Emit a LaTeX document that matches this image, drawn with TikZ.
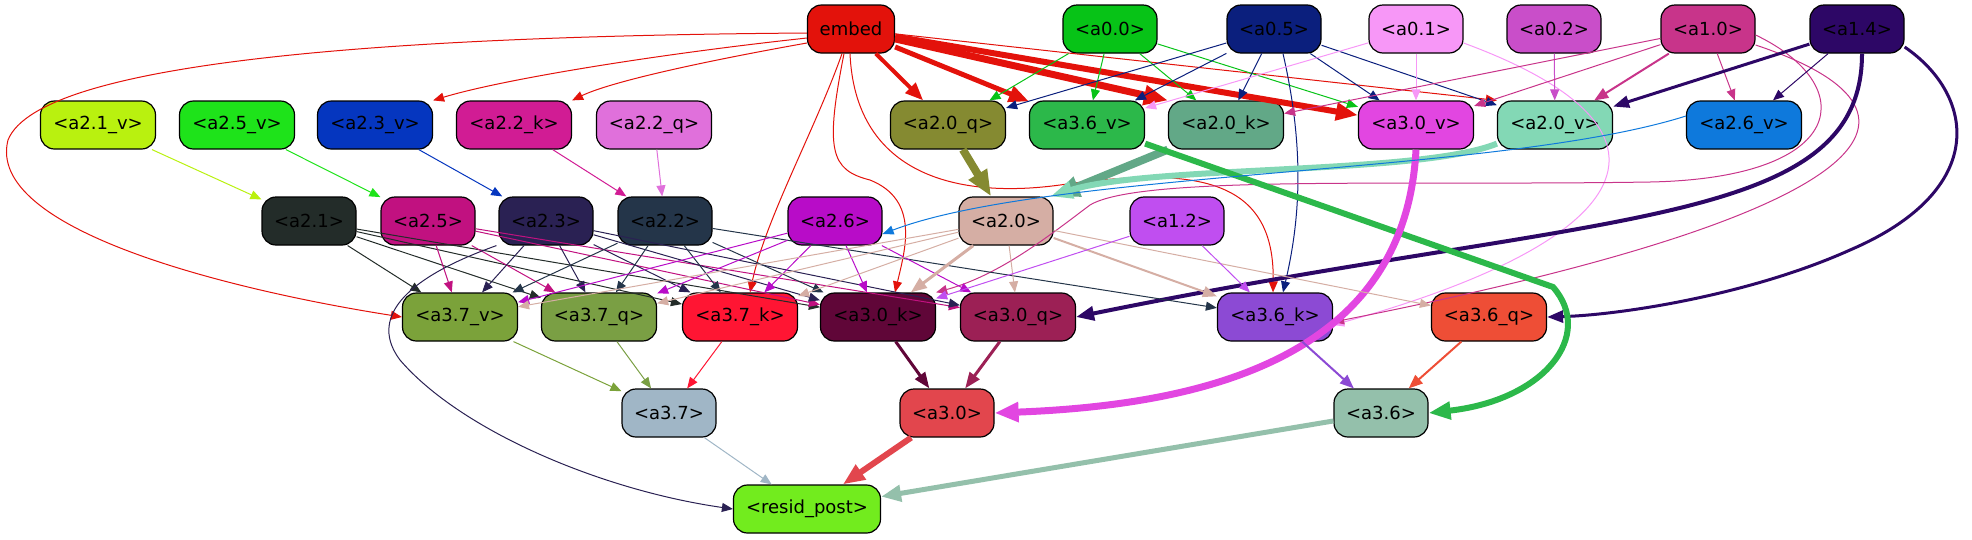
\documentclass[tikz,border=0pt]{standalone}
\usepackage{fontspec}
\setmainfont{DejaVu Sans}
\usetikzlibrary{arrows.meta}
\definecolor{cemb}{HTML}{E3120B}
\definecolor{ca00}{HTML}{07C317}
\definecolor{ca05}{HTML}{0B1F7D}
\definecolor{ca01}{HTML}{F797F7}
\definecolor{ca02}{HTML}{C94EC9}
\definecolor{ca10}{HTML}{C8348A}
\definecolor{ca14}{HTML}{2D0766}
\definecolor{ca21v}{HTML}{B9F10F}
\definecolor{ca25v}{HTML}{1EE31A}
\definecolor{ca23v}{HTML}{0536BF}
\definecolor{ca22k}{HTML}{D11C94}
\definecolor{ca22q}{HTML}{E070DB}
\definecolor{ca20q}{HTML}{858A31}
\definecolor{ca36v}{HTML}{2CB84A}
\definecolor{ca20k}{HTML}{62A887}
\definecolor{ca30v}{HTML}{E246E1}
\definecolor{ca20v}{HTML}{83D8B5}
\definecolor{ca26v}{HTML}{0E79DC}
\definecolor{ca21}{HTML}{232C29}
\definecolor{ca25}{HTML}{C11180}
\definecolor{ca23}{HTML}{2A2153}
\definecolor{ca22}{HTML}{243549}
\definecolor{ca26}{HTML}{B80CC8}
\definecolor{ca20}{HTML}{D5AEA4}
\definecolor{ca12}{HTML}{C04EF0}
\definecolor{ca37v}{HTML}{7BA23A}
\definecolor{ca37q}{HTML}{7A9F44}
\definecolor{ca37k}{HTML}{FF1533}
\definecolor{ca30k}{HTML}{600638}
\definecolor{ca30q}{HTML}{9C2055}
\definecolor{ca36k}{HTML}{8C4AD4}
\definecolor{ca36q}{HTML}{EE4E36}
\definecolor{ca37}{HTML}{A0B6C6}
\definecolor{ca30}{HTML}{E2464D}
\definecolor{ca36}{HTML}{94C0AB}
\definecolor{cres}{HTML}{72EC1E}
\begin{document}
\begin{tikzpicture}[x=1pt,y=-1pt,
  nd/.style={draw=black, line width=1.2pt, rounded corners=14pt, minimum height=48pt, inner sep=0pt, font=\fontsize{18}{20}\selectfont, text=black},
  sn/.style={nd, minimum width=94pt},
  ln/.style={nd, minimum width=115pt},
  e1/.style={line width=1pt, -{Triangle[length=11pt,width=9pt]}},
  e2/.style={line width=2pt, -{Triangle[length=14pt,width=11pt]}},
  e3/.style={line width=3pt, -{Triangle[length=16pt,width=12pt]}},
  e4/.style={line width=4pt, -{Triangle[length=18pt,width=14pt]}},
  e5/.style={line width=5pt, -{Triangle[length=20pt,width=16pt]}},
  e6/.style={line width=6pt, -{Triangle[length=22pt,width=17pt]}},
  e7/.style={line width=7pt, -{Triangle[length=24pt,width=19pt]}},
  e8/.style={line width=8pt, -{Triangle[length=26pt,width=20pt]}},
]
\useasboundingbox (0,0) rectangle (1972,539);
% row 1
\node[nd, minimum width=87pt, fill=cemb] (emb) at (851,29) {embed};
\node[sn, fill=ca00] (a00) at (1110,29) {<a0.0>};
\node[sn, fill=ca05] (a05) at (1274,29) {<a0.5>};
\node[sn, fill=ca01] (a01) at (1416,29) {<a0.1>};
\node[sn, fill=ca02] (a02) at (1554,29) {<a0.2>};
\node[sn, fill=ca10] (a10) at (1708,29) {<a1.0>};
\node[sn, fill=ca14] (a14) at (1857,29) {<a1.4>};
% row 2
\node[ln, fill=ca21v] (a21v) at (98,125) {<a2.1\_v>};
\node[ln, fill=ca25v] (a25v) at (237,125) {<a2.5\_v>};
\node[ln, fill=ca23v] (a23v) at (375,125) {<a2.3\_v>};
\node[ln, fill=ca22k] (a22k) at (514,125) {<a2.2\_k>};
\node[ln, fill=ca22q] (a22q) at (654,125) {<a2.2\_q>};
\node[ln, fill=ca20q] (a20q) at (948,125) {<a2.0\_q>};
\node[ln, fill=ca36v] (a36v) at (1087,125) {<a3.6\_v>};
\node[ln, fill=ca20k] (a20k) at (1226,125) {<a2.0\_k>};
\node[ln, fill=ca30v] (a30v) at (1416,125) {<a3.0\_v>};
\node[ln, fill=ca20v] (a20v) at (1555,125) {<a2.0\_v>};
\node[ln, fill=ca26v] (a26v) at (1744,125) {<a2.6\_v>};
% row 3
\node[sn, fill=ca21] (a21) at (309,221) {<a2.1>};
\node[sn, fill=ca25] (a25) at (428,221) {<a2.5>};
\node[sn, fill=ca23] (a23) at (546,221) {<a2.3>};
\node[sn, fill=ca22] (a22) at (665,221) {<a2.2>};
\node[sn, fill=ca26] (a26) at (835,221) {<a2.6>};
\node[sn, fill=ca20] (a20) at (1006,221) {<a2.0>};
\node[sn, fill=ca12] (a12) at (1177,221) {<a1.2>};
% row 4
\node[ln, fill=ca37v] (a37v) at (460,317) {<a3.7\_v>};
\node[ln, fill=ca37q] (a37q) at (599,317) {<a3.7\_q>};
\node[ln, fill=ca37k] (a37k) at (740,317) {<a3.7\_k>};
\node[ln, fill=ca30k] (a30k) at (878,317) {<a3.0\_k>};
\node[ln, fill=ca30q] (a30q) at (1018,317) {<a3.0\_q>};
\node[ln, fill=ca36k] (a36k) at (1275,317) {<a3.6\_k>};
\node[ln, fill=ca36q] (a36q) at (1489,317) {<a3.6\_q>};
% row 5
\node[sn, fill=ca37] (a37) at (669,413) {<a3.7>};
\node[sn, fill=ca30] (a30) at (947,413) {<a3.0>};
\node[sn, fill=ca36] (a36) at (1381,413) {<a3.6>};
% row 6
\node[nd, minimum width=147pt, fill=cres] (res) at (807,509) {<resid\_post>};

% ---- embed
\draw[e1,cemb] ([yshift=-4pt]emb.west) .. controls (400,36) and (40,60) .. (8,140) .. controls (-15,230) and (230,290) .. (a37v.west);
\draw[e1,cemb] ([yshift=-9pt]emb.west) .. controls (650,55) and (500,80) .. (a23v.north east);
\draw[e1,cemb] ([yshift=-14pt]emb.west) .. controls (700,62) and (610,82) .. (a22k.north east);
\draw[e1,cemb] ([xshift=-9pt]emb.south) .. controls (815,130) and (765,220) .. ([xshift=10pt]a37k.north);
\draw[e1,cemb] ([xshift=-7pt]emb.south) .. controls (825,150) and (830,170) .. (870,180) .. controls (920,200) and (905,250) .. ([xshift=17pt]a30k.north);
\draw[e1,cemb] ([xshift=-1pt]emb.south) .. controls (855,170) and (950,200) .. (1060,185) .. controls (1200,165) and (1275,180) .. ([xshift=-2pt]a36k.north);
\draw[e4,cemb] (emb) -- (a20q);
\draw[e5,cemb] (emb) -- (a36v);
\draw[e7,cemb] (emb) -- (a20k.north west);
\draw[e6,cemb] (emb) -- (a30v);
\draw[e1,cemb] (emb) -- (a20v.north west);
% ---- a0.0
\draw[e1,ca00] (a00) -- (a20q);
\draw[e1,ca00] (a00) -- (a36v);
\draw[e1,ca00] (a00) -- (a20k);
\draw[e1,ca00] (a00) -- (a30v);
% ---- a0.5
\draw[e1,ca05] (a05) -- (a20q);
\draw[e1,ca05] (a05) -- (a36v);
\draw[e1,ca05] (a05) -- (a20k);
\draw[e1,ca05] (a05) -- (a30v);
\draw[e1,ca05] (a05) -- (a20v);
\draw[e1,ca05] ([xshift=9pt]a05.south) .. controls (1305,150) and (1300,220) .. ([xshift=8pt]a36k.north);
% ---- a0.1
\draw[e1,ca01] (a01) -- (a30v);
\draw[e1,ca01] (a01) -- (a36v);
\draw[e1,ca01] ([yshift=-14pt]a01.east) .. controls (1700,130) and (1640,240) .. ([yshift=-8pt]a36k.east);
% ---- a0.2
\draw[e1,ca02] (a02) -- (a20v);
% ---- a1.0
\draw[e1,ca10] (a10) -- (a30v);
\draw[e1,ca10] (a10) -- (a20k);
\draw[e2,ca10] (a10) -- (a20v);
\draw[e1,ca10] (a10) -- (a26v);
\draw[e1,ca10] ([yshift=-16pt]a10.east) .. controls (1950,110) and (1900,210) .. ([yshift=-5pt]a36k.east);
\draw[e1,ca10] ([yshift=-6pt]a10.east) .. controls (1860,85) and (1850,178) .. (1650,182) .. controls (1400,186) and (1140,175) .. (1090,205) .. controls (1050,235) and (1000,275) .. (a30k.north east);
% ---- a1.4
\draw[e3,ca14] (a14) -- (a20v);
\draw[e1,ca14] (a14) -- (a26v);
\draw[e4,ca14] ([xshift=5pt]a14.south) .. controls (1862,230) and (1600,210) .. (a30q.east);
\draw[e3,ca14] ([yshift=-18pt]a14.east) .. controls (1975,95) and (1990,190) .. (1850,250) .. controls (1750,295) and (1620,315) .. (a36q.east);
% ---- row 2 -> row 3
\draw[e1,ca21v] (a21v) -- (a21);
\draw[e1,ca25v] (a25v) -- (a25);
\draw[e1,ca23v] (a23v) -- (a23);
\draw[e1,ca22k] (a22k) -- (a22);
\draw[e1,ca22q] (a22q) -- (a22);
\draw[e8,ca20q] (a20q) -- (a20);
\draw[e8,ca20k] (a20k.south west) -- (a20.north east);
\draw[e6,ca20v] ([yshift=6pt]a20v.south west) .. controls (1420,175) and (1150,165) .. ([xshift=-3pt]a20.north east);
\draw[e6,ca36v] ([yshift=6pt]a36v.south east) -- (1553,287) .. controls (1595,335) and (1545,400) .. (a36.east);
\draw[e7,ca30v] (a30v.south) .. controls (1405,360) and (1200,405) .. (a30.east);
\draw[e1,ca26v] ([yshift=9pt]a26v.west) .. controls (1500,175) and (1050,170) .. ([yshift=-13pt]a26.east);
% ---- row 3 -> row 4
\draw[e1,ca21] (a21) -- (a37v);
\draw[e1,ca21] (a21) -- (a37q);
\draw[e1,ca21] (a21) -- (a37k);
\draw[e1,ca21] (a21) -- (a30k);
\draw[e1,ca25] (a25) -- (a37v);
\draw[e1,ca25] (a25) -- (a37q);
\draw[e1,ca25] (a25) -- (a30k);
\draw[e1,ca25] (a25) -- (a30q);
\draw[e1,ca23] (a23) -- (a37v);
\draw[e1,ca23] (a23) -- (a37q);
\draw[e1,ca23] (a23) -- (a37k);
\draw[e1,ca23] (a23) -- (a30k);
\draw[e1,ca23] (a23) -- (a30q);
\draw[e1,ca23] ([xshift=-2pt]a23.south west) .. controls (400,280) and (370,320) .. (400,360) .. controls (460,430) and (600,490) .. (res.west);
\draw[e1,ca22] (a22) -- (a37v);
\draw[e1,ca22] (a22) -- (a37q);
\draw[e1,ca22] (a22) -- (a37k);
\draw[e1,ca22] (a22) -- (a30k);
\draw[e1,ca22] (a22) -- (a36k);
\draw[e1,ca26] (a26) -- (a37v);
\draw[e1,ca26] (a26) -- (a37q);
\draw[e1,ca26] (a26) -- (a37k);
\draw[e1,ca26] (a26) -- (a30k);
\draw[e1,ca26] (a26) -- (a30q);
\draw[e1,ca20] (a20) -- (a37v);
\draw[e1,ca20] (a20) -- (a37q);
\draw[e1,ca20] (a20) -- (a37k);
\draw[e3,ca20] (a20) -- (a30k);
\draw[e1,ca20] (a20) -- (a30q);
\draw[e2,ca20] (a20) -- (a36k);
\draw[e1,ca20] (a20) -- (a36q);
\draw[e1,ca12] (a12) -- (a30k);
\draw[e1,ca12] (a12) -- (a36k);
% ---- row 4 -> row 5
\draw[e1,ca37v] (a37v) -- (a37);
\draw[e1,ca37q] (a37q) -- (a37);
\draw[e1,ca37k] (a37k) -- (a37);
\draw[e3,ca30k] (a30k) -- (a30);
\draw[e3,ca30q] (a30q) -- (a30);
\draw[e2,ca36k] (a36k) -- (a36);
\draw[e2,ca36q] (a36q) -- (a36);
% ---- row 5 -> resid_post
\draw[e1,ca37] (a37) -- (res);
\draw[e6,ca30] (a30) -- (res);
\draw[e5,ca36] (a36) -- (res);
\end{tikzpicture}
\end{document}
